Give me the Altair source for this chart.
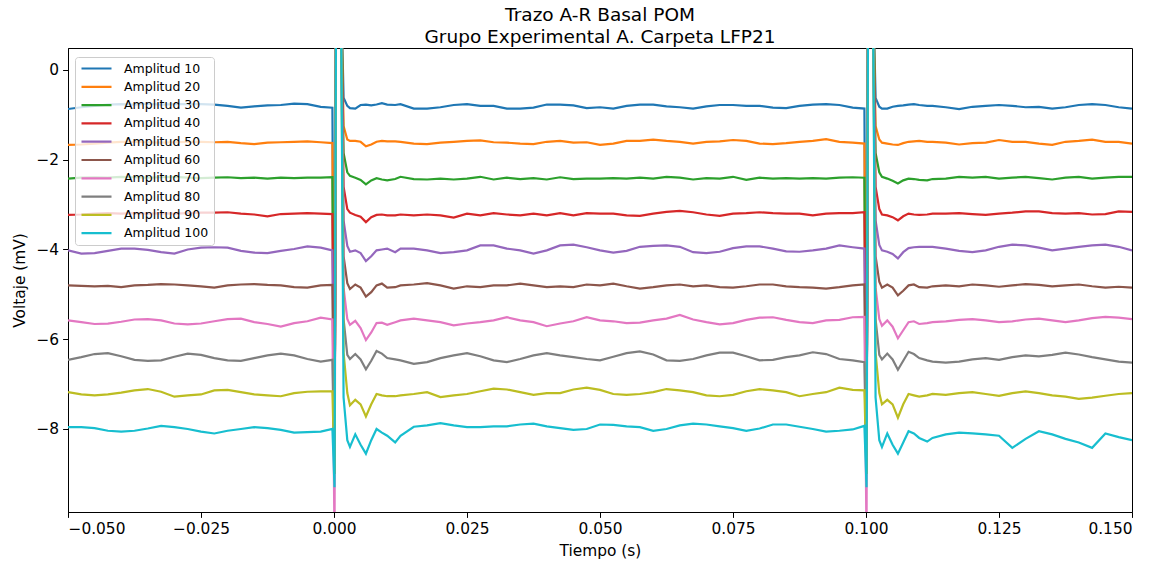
import altair as alt
import pandas as pd

# ---- time grid (s) ----
t_pre = [-0.05, -0.0475, -0.045, -0.0425, -0.04, -0.0375, -0.035, -0.0325, -0.03, -0.0275,
         -0.025, -0.0225, -0.02, -0.0175, -0.015, -0.0125, -0.01, -0.0075, -0.005, -0.0025, -0.0003]
t_stim1 = [0.0001, 0.0004, 0.0013, 0.0018, 0.0025, 0.003, 0.004, 0.005, 0.006, 0.007,
           0.008, 0.009, 0.010, 0.0115]
t_mid = [0.0125, 0.015, 0.0175, 0.02, 0.0225, 0.025, 0.0275, 0.03, 0.0325, 0.035, 0.0375,
         0.04, 0.0425, 0.045, 0.0475, 0.05, 0.0525, 0.055, 0.0575, 0.06, 0.0625, 0.065,
         0.0675, 0.07, 0.0725, 0.075, 0.0775, 0.08, 0.0825, 0.085, 0.0875, 0.09, 0.0925,
         0.095, 0.0975, 0.0997]
t_stim2 = [0.1001, 0.1004, 0.1013, 0.1018, 0.1025, 0.103, 0.104, 0.105, 0.106, 0.107,
           0.108, 0.109, 0.110, 0.1115]
t_post = [0.1125, 0.115, 0.1175, 0.12, 0.1225, 0.125, 0.1275, 0.13, 0.1325, 0.135, 0.1375,
          0.14, 0.1425, 0.145, 0.1475, 0.15]
time_s = t_pre + t_stim1 + t_mid + t_stim2 + t_post

# ---- voltage traces (mV) ----
amp10 = ([-0.87, -0.83, -0.80, -0.77, -0.76, -0.77, -0.75, -0.77, -0.76, -0.76, -0.76, -0.77, -0.80, -0.84, -0.81, -0.79, -0.78, -0.75, -0.76, -0.82, -0.84]
         + [-9.0, 2.0, 2.0, -0.62, -0.80, -0.85, -0.86, -0.78, -0.77, -0.79, -0.77, -0.74, -0.77, -0.78]
         + [-0.76, -0.86, -0.86, -0.83, -0.78, -0.76, -0.80, -0.80, -0.86, -0.86, -0.84, -0.77, -0.77, -0.79, -0.85, -0.83,
            -0.86, -0.80, -0.77, -0.77, -0.81, -0.83, -0.86, -0.81, -0.78, -0.78, -0.80, -0.80, -0.84, -0.85, -0.80, -0.77, -0.76, -0.78, -0.84, -0.86]
         + [-9.0, 2.0, 2.0, -0.62, -0.82, -0.86, -0.86, -0.82, -0.80, -0.79, -0.77, -0.76, -0.78, -0.80]
         + [-0.80, -0.83, -0.87, -0.82, -0.80, -0.78, -0.80, -0.83, -0.82, -0.86, -0.83, -0.78, -0.76, -0.78, -0.83, -0.86])
amp20 = ([-1.67, -1.66, -1.64, -1.62, -1.60, -1.60, -1.61, -1.62, -1.61, -1.60, -1.60, -1.61, -1.60, -1.63, -1.65, -1.62, -1.61, -1.60, -1.59, -1.61, -1.63]
         + [-9.0, 2.0, 2.0, -1.25, -1.55, -1.58, -1.58, -1.60, -1.70, -1.66, -1.60, -1.58, -1.59, -1.59]
         + [-1.60, -1.64, -1.65, -1.62, -1.60, -1.58, -1.57, -1.61, -1.62, -1.64, -1.65, -1.60, -1.58, -1.62, -1.61, -1.67,
            -1.64, -1.58, -1.58, -1.55, -1.58, -1.60, -1.64, -1.60, -1.59, -1.56, -1.58, -1.64, -1.65, -1.63, -1.60, -1.58, -1.54, -1.60, -1.62, -1.64]
         + [-9.0, 2.0, 2.0, -1.25, -1.55, -1.62, -1.64, -1.66, -1.67, -1.63, -1.60, -1.59, -1.58, -1.60]
         + [-1.60, -1.62, -1.66, -1.63, -1.62, -1.56, -1.60, -1.60, -1.64, -1.67, -1.60, -1.58, -1.55, -1.60, -1.60, -1.64])
amp30 = ([-2.42, -2.40, -2.39, -2.40, -2.38, -2.39, -2.40, -2.39, -2.38, -2.40, -2.41, -2.40, -2.39, -2.41, -2.40, -2.42, -2.40, -2.41, -2.40, -2.40, -2.39]
         + [-9.0, 2.0, 2.0, -1.85, -2.28, -2.36, -2.40, -2.45, -2.55, -2.46, -2.41, -2.44, -2.46, -2.43]
         + [-2.38, -2.43, -2.44, -2.42, -2.44, -2.42, -2.38, -2.44, -2.40, -2.43, -2.41, -2.44, -2.39, -2.43, -2.42, -2.42,
            -2.41, -2.42, -2.40, -2.42, -2.38, -2.40, -2.44, -2.41, -2.42, -2.38, -2.45, -2.40, -2.42, -2.41, -2.42, -2.41, -2.42, -2.40, -2.39, -2.40]
         + [-9.0, 2.0, 2.0, -1.85, -2.28, -2.38, -2.42, -2.47, -2.53, -2.46, -2.42, -2.43, -2.45, -2.46]
         + [-2.43, -2.42, -2.38, -2.40, -2.38, -2.42, -2.40, -2.38, -2.41, -2.44, -2.40, -2.38, -2.42, -2.40, -2.38, -2.38])
amp40 = ([-3.23, -3.22, -3.20, -3.19, -3.20, -3.19, -3.20, -3.19, -3.20, -3.19, -3.18, -3.18, -3.17, -3.20, -3.22, -3.26, -3.21, -3.20, -3.19, -3.20, -3.21]
         + [-9.0, 2.0, 2.0, -2.60, -3.10, -3.18, -3.23, -3.27, -3.39, -3.28, -3.23, -3.22, -3.24, -3.24]
         + [-3.22, -3.24, -3.22, -3.24, -3.29, -3.20, -3.24, -3.19, -3.22, -3.24, -3.20, -3.24, -3.19, -3.24, -3.19, -3.20,
            -3.20, -3.24, -3.25, -3.20, -3.16, -3.14, -3.17, -3.22, -3.25, -3.20, -3.19, -3.17, -3.19, -3.20, -3.20, -3.24, -3.20, -3.19, -3.19, -3.17]
         + [-9.0, 2.0, 2.0, -2.60, -3.10, -3.22, -3.24, -3.28, -3.35, -3.26, -3.20, -3.22, -3.23, -3.22]
         + [-3.20, -3.20, -3.19, -3.21, -3.23, -3.20, -3.18, -3.15, -3.15, -3.19, -3.20, -3.19, -3.22, -3.21, -3.15, -3.16])
amp50 = ([-4.02, -4.09, -4.08, -4.03, -3.98, -3.98, -4.01, -4.06, -4.09, -4.00, -3.96, -3.95, -3.96, -4.03, -4.07, -4.08, -4.03, -3.99, -3.93, -3.96, -4.02]
         + [-9.0, 2.0, 2.0, -3.35, -3.92, -4.05, -4.02, -4.08, -4.26, -4.15, -4.02, -4.00, -3.98, -4.06]
         + [-3.98, -3.98, -4.02, -4.08, -4.06, -4.02, -3.91, -3.91, -3.98, -4.02, -4.09, -4.02, -3.91, -3.89, -3.95, -4.02,
            -4.07, -4.03, -3.94, -3.92, -3.91, -3.94, -4.06, -4.08, -4.05, -3.97, -3.93, -3.93, -3.98, -4.04, -4.05, -4.02, -3.98, -3.91, -3.95, -3.98]
         + [-9.0, 2.0, 2.0, -3.35, -3.90, -4.02, -4.05, -4.10, -4.20, -4.06, -3.97, -3.95, -3.94, -3.94]
         + [-3.94, -3.98, -4.03, -4.06, -4.02, -3.94, -3.89, -3.91, -3.96, -4.02, -3.98, -3.94, -3.91, -3.89, -3.94, -4.02])
amp60 = ([-4.80, -4.81, -4.82, -4.81, -4.84, -4.80, -4.79, -4.77, -4.78, -4.80, -4.82, -4.85, -4.80, -4.78, -4.77, -4.79, -4.80, -4.84, -4.85, -4.80, -4.79]
         + [-9.0, 2.0, 2.0, -4.15, -4.75, -4.88, -4.78, -4.85, -5.05, -4.95, -4.80, -4.76, -4.85, -4.84]
         + [-4.80, -4.78, -4.75, -4.80, -4.87, -4.82, -4.84, -4.80, -4.80, -4.76, -4.80, -4.84, -4.82, -4.84, -4.78, -4.80,
            -4.76, -4.82, -4.87, -4.84, -4.80, -4.78, -4.82, -4.80, -4.84, -4.85, -4.82, -4.78, -4.78, -4.82, -4.84, -4.85, -4.87, -4.84, -4.80, -4.78]
         + [-9.0, 2.0, 2.0, -4.15, -4.72, -4.85, -4.78, -4.85, -5.02, -4.92, -4.80, -4.78, -4.84, -4.85]
         + [-4.82, -4.80, -4.82, -4.78, -4.80, -4.83, -4.80, -4.77, -4.79, -4.82, -4.80, -4.78, -4.82, -4.85, -4.83, -4.85])
amp70 = ([-5.58, -5.62, -5.66, -5.65, -5.61, -5.56, -5.55, -5.58, -5.65, -5.67, -5.65, -5.60, -5.55, -5.54, -5.62, -5.66, -5.72, -5.64, -5.60, -5.52, -5.56]
         + [-10.5, 2.0, 2.0, -4.85, -5.55, -5.68, -5.59, -5.75, -6.02, -5.85, -5.64, -5.63, -5.68, -5.62]
         + [-5.58, -5.54, -5.58, -5.62, -5.69, -5.65, -5.62, -5.58, -5.51, -5.58, -5.62, -5.71, -5.65, -5.60, -5.51, -5.58,
            -5.60, -5.64, -5.63, -5.58, -5.54, -5.46, -5.56, -5.62, -5.67, -5.64, -5.57, -5.52, -5.51, -5.57, -5.62, -5.64, -5.58, -5.57, -5.51, -5.50]
         + [-10.5, 2.0, 2.0, -4.85, -5.55, -5.70, -5.58, -5.72, -5.98, -5.80, -5.62, -5.60, -5.66, -5.64]
         + [-5.62, -5.60, -5.57, -5.55, -5.58, -5.62, -5.60, -5.56, -5.54, -5.58, -5.62, -5.58, -5.53, -5.50, -5.52, -5.55])
amp80 = ([-6.46, -6.40, -6.33, -6.31, -6.38, -6.46, -6.48, -6.47, -6.39, -6.32, -6.35, -6.42, -6.47, -6.48, -6.42, -6.36, -6.32, -6.36, -6.44, -6.50, -6.46]
         + [-9.0, 2.0, 2.0, -5.55, -6.35, -6.44, -6.33, -6.45, -6.67, -6.48, -6.26, -6.32, -6.42, -6.45]
         + [-6.47, -6.55, -6.51, -6.42, -6.36, -6.31, -6.38, -6.47, -6.51, -6.44, -6.36, -6.31, -6.36, -6.40, -6.44, -6.47,
            -6.39, -6.31, -6.27, -6.34, -6.47, -6.48, -6.44, -6.36, -6.30, -6.30, -6.38, -6.47, -6.46, -6.40, -6.36, -6.29, -6.33, -6.44, -6.47, -6.51]
         + [-9.0, 2.0, 2.0, -5.55, -6.35, -6.45, -6.32, -6.45, -6.68, -6.48, -6.28, -6.33, -6.42, -6.47]
         + [-6.50, -6.52, -6.50, -6.45, -6.42, -6.46, -6.40, -6.36, -6.38, -6.35, -6.30, -6.34, -6.40, -6.45, -6.50, -6.52])
amp90 = ([-7.18, -7.23, -7.25, -7.23, -7.19, -7.14, -7.11, -7.17, -7.28, -7.25, -7.23, -7.14, -7.13, -7.18, -7.23, -7.25, -7.27, -7.20, -7.17, -7.16, -7.16]
         + [-9.0, 2.0, 2.0, -6.30, -7.20, -7.47, -7.35, -7.45, -7.72, -7.45, -7.22, -7.25, -7.27, -7.27]
         + [-7.25, -7.22, -7.18, -7.29, -7.25, -7.22, -7.16, -7.10, -7.12, -7.18, -7.24, -7.20, -7.20, -7.12, -7.08, -7.13,
            -7.22, -7.24, -7.22, -7.18, -7.11, -7.14, -7.18, -7.25, -7.27, -7.24, -7.16, -7.11, -7.14, -7.18, -7.27, -7.22, -7.18, -7.08, -7.13, -7.14]
         + [-9.0, 2.0, 2.0, -6.30, -7.20, -7.45, -7.35, -7.45, -7.75, -7.45, -7.22, -7.25, -7.28, -7.25]
         + [-7.22, -7.24, -7.20, -7.18, -7.22, -7.26, -7.20, -7.16, -7.20, -7.25, -7.28, -7.33, -7.30, -7.26, -7.22, -7.20])
amp100 = ([-7.96, -7.96, -7.98, -8.04, -8.06, -8.04, -7.99, -7.93, -7.96, -8.00, -8.06, -8.10, -8.04, -8.00, -7.96, -7.98, -8.02, -8.08, -8.07, -8.06, -8.00]
          + [-9.3, 2.0, 2.0, -7.30, -8.25, -8.40, -8.12, -8.35, -8.55, -8.25, -8.00, -8.08, -8.15, -8.30]
          + [-8.15, -7.95, -7.92, -7.87, -7.92, -7.96, -7.96, -7.94, -7.94, -7.90, -7.88, -7.94, -7.98, -8.02, -8.00, -7.90,
             -7.91, -7.94, -7.96, -8.04, -8.00, -7.92, -7.88, -7.90, -7.94, -7.98, -8.04, -7.99, -7.90, -7.90, -7.95, -8.00, -8.06, -8.04, -8.01, -7.93]
          + [-9.3, 2.0, 2.0, -7.30, -8.25, -8.40, -8.10, -8.35, -8.55, -8.30, -8.05, -8.10, -8.20, -8.28]
          + [-8.20, -8.12, -8.08, -8.10, -8.12, -8.15, -8.42, -8.22, -8.05, -8.12, -8.22, -8.30, -8.42, -8.10, -8.18, -8.25])

names = ["Amplitud 10", "Amplitud 20", "Amplitud 30", "Amplitud 40", "Amplitud 50",
         "Amplitud 60", "Amplitud 70", "Amplitud 80", "Amplitud 90", "Amplitud 100"]
colors = ["#1f77b4", "#ff7f0e", "#2ca02c", "#d62728", "#9467bd",
          "#8c564b", "#e377c2", "#7f7f7f", "#bcbd22", "#17becf"]
series = [amp10, amp20, amp30, amp40, amp50, amp60, amp70, amp80, amp90, amp100]

x_ticks = [-0.05, -0.025, 0.0, 0.025, 0.05, 0.075, 0.1, 0.125, 0.15]
y_ticks = [0, -2, -4, -6, -8]

rows = []
for i, (name, vals) in enumerate(zip(names, series)):
    for t, v in zip(time_s, vals):
        rows.append({"serie": name, "idx": i, "t": t, "v": v})
df = pd.DataFrame(rows)

FONT = "DejaVu Sans"

chart = alt.Chart(df).mark_line(strokeWidth=2.2, clip=True).encode(
    x=alt.X("t:Q",
            scale=alt.Scale(domain=[-0.05, 0.15], nice=False, zero=False),
            axis=alt.Axis(title="Tiempo (s)", values=x_ticks, titlePadding=7,
                          labelExpr="replace(format(datum.value, '.3f'), '-', '\u2212')")),
    y=alt.Y("v:Q",
            scale=alt.Scale(domain=[-9.85, 0.49], nice=False, zero=False),
            axis=alt.Axis(title="Voltaje (mV)", values=y_ticks, titlePadding=8,
                          labelExpr="replace(format(datum.value, 'd'), '-', '\u2212')")),
    color=alt.Color("serie:N", sort=names,
                    scale=alt.Scale(domain=names, range=colors),
                    legend=alt.Legend(title=None, orient="none", legendX=7, legendY=9,
                                      symbolType="stroke", symbolSize=900,
                                      symbolStrokeWidth=2.2, clipHeight=13,
                                      rowPadding=5.3, padding=5, labelOffset=11,
                                      labelFont=FONT, labelFontSize=12.5,
                                      labelColor="black",
                                      fillColor="rgba(255,255,255,0.8)",
                                      strokeColor="#cccccc", cornerRadius=3)),
    detail="idx:O",
).properties(
    width=1064,
    height=464,
    title=alt.TitleParams(text=["Trazo A-R Basal POM", "Grupo Experimental A. Carpeta LFP21"],
                          font=FONT, fontSize=18.5, fontWeight="normal", color="black",
                          anchor="middle", lineHeight=22.5, offset=1.5),
    autosize=alt.AutoSizeParams(type="none"),
    padding={"left": 68, "top": 48, "right": 30, "bottom": 54},
).configure_view(
    stroke="black", strokeWidth=1
).configure_axis(
    labelFont=FONT, titleFont=FONT, labelFontSize=15.4, titleFontSize=15.4,
    labelColor="black", titleColor="black", titleFontWeight="normal",
    domainColor="black", tickColor="black", tickSize=5.4, tickWidth=1,
    grid=False, labelPadding=4, titlePadding=5
)

chart.save("out.html", embed_options={"renderer": "svg", "actions": False})
